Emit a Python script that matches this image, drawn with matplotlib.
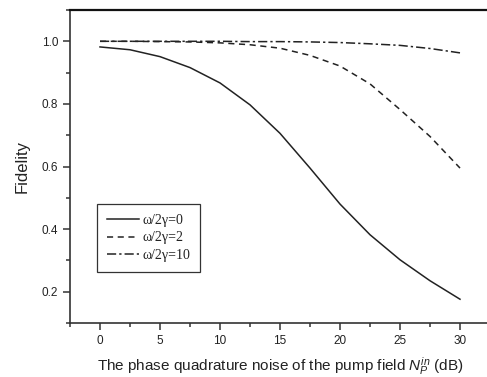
import numpy as np
import matplotlib
matplotlib.use('Agg')
from matplotlib import pyplot as plt
from matplotlib.ticker import MultipleLocator

# values
noise_db = [0, 2.5, 5, 7.5, 10, 12.5, 15, 17.5, 20, 22.5, 25, 27.5, 30]
fid_w0 = [0.982, 0.973, 0.951, 0.916, 0.867, 0.797, 0.706, 0.595, 0.480, 0.382, 0.302, 0.235, 0.176]
fid_w2 = [1.0, 1.0, 0.999, 0.998, 0.995, 0.989, 0.978, 0.955, 0.921, 0.864, 0.782, 0.696, 0.595]
fid_w10 = [1.0, 1.0, 1.0, 1.0, 1.0, 0.999, 0.999, 0.998, 0.996, 0.992, 0.987, 0.977, 0.963]
labels = ['ω/2γ=0', 'ω/2γ=2', 'ω/2γ=10']

plt.rcParams['font.family'] = ['Liberation Sans', 'DejaVu Sans']
plt.rcParams['mathtext.fontset'] = 'custom'
plt.rcParams['mathtext.it'] = 'Liberation Sans:italic'
plt.rcParams['mathtext.rm'] = 'Liberation Sans'

fig = plt.figure(figsize=(4.87, 3.77), dpi=100)
ax = fig.add_axes([70 / 487, 54 / 377, 420 / 487, 313 / 377])

ax.plot(noise_db, fid_w0, color='#222222', lw=1.1, ls='-')
ax.plot(noise_db, fid_w2, color='#222222', lw=1.1, ls=(0, (4, 3)))
ax.plot(noise_db, fid_w10, color='#222222', lw=1.1, ls=(0, (6, 2, 1.5, 2)))

ax.set_xlim(-2.5, 32.5)
ax.set_ylim(0.1, 1.1)
ax.xaxis.set_major_locator(MultipleLocator(5))
ax.xaxis.set_minor_locator(MultipleLocator(2.5))
ax.yaxis.set_minor_locator(MultipleLocator(0.1))
ax.set_yticks([0.2, 0.4, 0.6, 0.8, 1.0])
ax.set_yticklabels(['0.2', '0.4', '0.6', '0.8', '1.0'])

ax.spines['right'].set_visible(False)
for s in ['left', 'bottom']:
    ax.spines[s].set_linewidth(1.2)
    ax.spines[s].set_color('#333333')
ax.spines['top'].set_linewidth(1.6)
ax.spines['top'].set_color('#111111')
ax.tick_params(which='both', direction='out', color='#333333', width=1.1)
ax.tick_params(which='major', length=5, labelsize=8.5, pad=3.5, labelcolor='#222222')
ax.tick_params(which='minor', length=3)

ax.set_xlabel(r'The phase quadrature noise of the pump field $N_P^{in}$ (dB)',
              fontsize=11, color='#222222', labelpad=6)
ax.set_ylabel('Fidelity', fontsize=12, color='#222222', labelpad=9)

leg = ax.legend(labels, loc='lower left', bbox_to_anchor=(0.064, 0.163),
                prop={'family': 'Liberation Serif', 'size': 10},
                fancybox=False, framealpha=1, edgecolor='#333333',
                handlelength=2.3, handletextpad=0.3, borderpad=0.7,
                labelspacing=0.35, borderaxespad=0)
leg.get_frame().set_linewidth(0.9)
for t in leg.get_texts():
    t.set_color('#222222')

fig.savefig('out.png', dpi=100)
